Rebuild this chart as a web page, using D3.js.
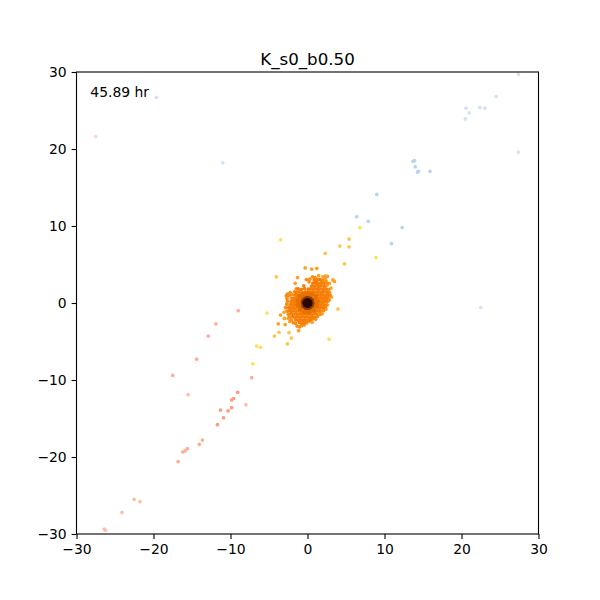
<!DOCTYPE html>
<html><head><meta charset="utf-8">
<script src="https://cdn.jsdelivr.net/npm/d3@7"></script>
<style>html,body{margin:0;padding:0;background:#fff}svg{display:block}text{font-family:"DejaVu Sans",sans-serif;fill:#000}</style>
</head><body><svg id="c" width="600" height="600"></svg>
<script>
const titleText="K_s0_b0.50", timeLabel="45.89 hr";
const tickValues=[-30,-20,-10,0,10,20,30];

const blueNear=[[9,14.1],[6.4,11.2],[7.9,10.6],[12.3,9.8],[10.9,7.7],[13.7,18.4],[13.9,18.5],[14,17.7],[14.4,17.1],[14.3,17],[15.9,17.1]];
const blueFar=[[27.4,29.7],[24.5,26.8],[20.6,25.3],[22.4,25.4],[23.05,25.3],[21,24.7],[20.5,23.9],[27.4,19.6],[22.5,-0.6],[-19.6,26.7],[-11,18.2]];
const pinkFar=[[-27.5,21.6]];
const salmonFar=[[-22.5,-25.5],[-21.75,-25.8],[-24.1,-27.2],[-26.4,-29.35],[-26.25,-29.5],[-15.5,-11.9],[-8,-13.2]];
const salmonMid=[[-9,-1],[-11.9,-2.7],[-12.9,-4.3],[-14.4,-7.3],[-17.5,-9.4],[-7.25,-9.7],[-16.8,-20.6],[-15.6,-18.9],[-15.9,-19.2],[-16.2,-19.35],[-13.65,-17.8],[-14.05,-18.35]];
const salmonNear=[[-9.07,-11.6],[-9.6,-12.4],[-9.85,-12.6],[-9.85,-13.6],[-10.3,-14],[-11.3,-13.9],[-10.9,-14.9],[-11.7,-15.8]];
const yellow=[[8.9,5.9],[-3.5,8.2],[-5.26,-1.3],[2.8,-4.7],[-6.6,-5.6],[-6.1,-5.75],[-7.1,-7.9],[6.8,9.8]];
const amber=[[5.4,8.3],[5.4,7.3],[4.2,7.4],[4.8,5.1],[2.3,6.45],[-4.05,3.4],[3.96,-0.78],[-2.6,-5.3],[-4.3,-4.3],[-3.7,-3.8],[-2.1,-4.55],[-2.4,-3.85]];
const orangeOuter=[[-1.15,-3.6],[-3.8,-2.7],[-2.9,-2.8],[-3.5,-1.56],[-3.05,-1.2],[-3,-2],[-2.5,-2],[-2.3,-2.4],[0.6,-2.5],[-0.3,4.55],[0.55,4.4],[1.2,4.5],[-1.3,3.3],[-1.6,2.55],[1.45,3.55],[2,3.4],[2.3,3.5],[2.6,3.45],[2.3,3.2],[3.3,3],[3.5,2.8],[2.85,2.55],[2.55,2.3],[3.05,1.95],[3.1,0.78],[2.6,0.2],[2.4,-0.8],[1.9,-1.4],[1.6,-1.1]];
const orangeEdge=[[-2.75,0.92],[-2.62,1.15],[-2.4,0.95],[-2.25,1.35],[-2.05,1.1],[-2.65,0.55],[-2.6,0.2],[-2.7,-0.15],[-2.85,-0.6],[-2.65,-1.05],[-2.5,-1.45],[-2.35,-1.8],[-2.1,-2.2],[-1.85,-2.55],[-1.55,-2.65],[-1.35,-3.0],[-1.05,-3.1],[-0.8,-2.95],[-0.45,-2.85],[-0.1,-2.6],[0.25,-2.35],[-1.7,1.45],[-1.45,1.85],[-0.15,3.05],[0.2,2.75],[0.3,3.1],[0.65,3.4],[1.0,3.3],[1.3,3.05],[1.95,2.95],[2.4,2.85],[2.55,2.55],[2.75,1.75],[2.85,1.35],[2.95,1.0],[2.75,0.55],[2.8,0.35],[2.55,-0.25],[2.3,-0.55],[2.05,-1.0],[1.65,-1.45],[1.3,-1.75],[1.05,-2.1],[0.65,-2.05]];
const orangeDense=[
[0.88,3.02],[1.21,2.91],[1.62,3.05],[0.71,2.58],[1.03,2.66],[1.34,2.54],[1.72,2.61],[2.12,2.57],
[-0.48,2.24],[0.52,2.21],[0.83,2.16],[1.12,2.27],[1.43,2.15],[1.81,2.23],[2.21,2.14],
[-1.22,1.83],[-0.81,1.78],[-0.37,1.86],[0.11,1.79],[0.42,1.84],[0.73,1.76],[1.02,1.85],[1.31,1.78],[1.64,1.83],[2.03,1.76],[2.42,1.81],
[-1.43,1.38],[-1.02,1.44],[-0.63,1.36],[-0.28,1.43],[0.03,1.37],[0.32,1.42],[0.61,1.35],[0.93,1.43],[1.22,1.36],[1.53,1.42],[1.82,1.37],[2.13,1.44],[2.51,1.38],
[-1.62,1.02],[-1.31,0.96],[-1.02,1.04],[-0.71,0.97],[-0.42,1.03],[-0.13,0.95],[0.21,1.04],[0.52,0.97],[0.81,1.03],[1.12,0.96],[1.41,1.04],[1.72,0.97],[2.01,1.03],[2.32,0.95],[2.63,1.02],
[-2.03,0.62],[-1.72,0.57],[-1.41,0.63],[-1.12,0.56],[-0.83,0.62],[-0.52,0.57],[-0.21,0.63],[0.12,0.56],[0.41,0.62],[0.72,0.57],[1.03,0.63],[1.32,0.56],[1.61,0.62],[1.92,0.57],[2.23,0.63],[2.54,0.58],
[-2.12,0.22],[-1.81,0.17],[-1.52,0.23],[-1.22,0.16],[-0.91,0.22],[-0.62,0.17],[-0.31,0.23],[0.02,0.16],[0.31,0.22],[0.62,0.17],[0.93,0.23],[1.22,0.16],[1.52,0.22],[1.83,0.17],[2.12,0.23],[2.43,0.18],
[-2.24,-0.18],[-1.93,-0.23],[-1.62,-0.17],[-1.33,-0.24],[-1.02,-0.18],[-0.73,-0.23],[-0.42,-0.17],[-0.13,-0.24],[0.18,-0.18],[0.47,-0.23],[0.78,-0.17],[1.07,-0.24],[1.38,-0.18],[1.67,-0.23],[1.98,-0.17],[2.23,-0.24],
[-2.42,-0.58],[-2.11,-0.63],[-1.82,-0.57],[-1.51,-0.64],[-1.22,-0.58],[-0.91,-0.63],[-0.62,-0.57],[-0.31,-0.64],[0.02,-0.58],[0.31,-0.63],[0.62,-0.57],[0.91,-0.64],[1.22,-0.58],[1.51,-0.63],[1.82,-0.57],[2.03,-0.64],
[-2.33,-0.98],[-2.02,-1.03],[-1.73,-0.97],[-1.42,-1.04],[-1.13,-0.98],[-0.82,-1.03],[-0.53,-0.97],[-0.22,-1.04],[0.11,-0.98],[0.42,-1.03],[0.71,-0.97],[1.02,-1.04],[1.33,-0.98],[1.62,-1.03],
[-2.13,-1.38],[-1.82,-1.43],[-1.51,-1.37],[-1.22,-1.44],[-0.91,-1.38],[-0.62,-1.43],[-0.31,-1.37],[0.02,-1.44],[0.33,-1.38],[0.62,-1.43],[0.91,-1.37],[1.22,-1.44],
[-1.92,-1.78],[-1.61,-1.83],[-1.32,-1.77],[-1.01,-1.84],[-0.72,-1.78],[-0.41,-1.83],[-0.12,-1.77],[0.21,-1.84],[0.52,-1.78],[0.88,-1.83],
[-1.52,-2.18],[-1.21,-2.23],[-0.92,-2.17],[-0.61,-2.24],[-0.32,-2.18],[0.03,-2.23],[0.41,-2.17],
[-1.03,-2.53],[-0.72,-2.61],[-0.41,-2.52]];
const orangeInner=[[-1.2,0.3],[-1,0.9],[-0.6,1.1],[0,1.25],[0.6,1.15],[1.1,0.8],[1.3,0.2],[1.2,-0.4],[0.8,-0.95],[0.2,-1.2],[-0.4,-1.2],[-0.95,-0.8],[-1.25,-0.25],[-0.8,0.4],[-0.4,0.85],[0.3,0.9],[0.85,0.5],[0.95,-0.2],[0.5,-0.75],[-0.2,-0.9],[-0.8,-0.45]];
const brownRing=[[-0.55,0.1],[-0.45,0.35],[-0.25,0.52],[0,0.58],[0.28,0.5],[0.5,0.3],[0.58,0],[0.5,-0.28],[0.28,-0.5],[0,-0.58],[-0.25,-0.52],[-0.47,-0.32]];
const darkCore=[[0,0],[0.2,0.15],[-0.2,0.15],[0.2,-0.15],[-0.2,-0.15],[0,0.28],[0,-0.28],[0.28,0],[-0.28,0]];

const layers=[
 {pts:blueFar,fill:"#d2e3f5"},{pts:blueNear,fill:"#b9d4ec"},
 {pts:pinkFar,fill:"#ffd8cc"},{pts:salmonFar,fill:"#ffc0a9"},
 {pts:salmonMid,fill:"#ffae94"},{pts:salmonNear,fill:"#ff9a80"},
 {pts:yellow,fill:"#ffdf5c"},{pts:amber,fill:"#ffc44a"},
 {pts:orangeOuter,fill:"#ffa126"},{pts:orangeEdge,fill:"#fb8d14"},{pts:orangeDense,fill:"#f57f08"},
 {pts:orangeInner,fill:"#e67000",r:2.4},{pts:brownRing,fill:"#8c3a04",r:2.6},
 {pts:darkCore,fill:"#2a0505",r:2.9}
];

const L=76.5,R=538.5,T=72,B=534;
const x=d3.scaleLinear().domain([-30,30]).range([L,R]);
const y=d3.scaleLinear().domain([-30,30]).range([B,T]);
const svg=d3.select("#c");
svg.append("defs").append("clipPath").attr("id","cp").append("rect").attr("x",L).attr("y",T).attr("width",R-L).attr("height",B-T);
const g=svg.append("g").attr("clip-path","url(#cp)");
layers.forEach(l=>{
 g.append("g").selectAll("circle").data(l.pts).join("circle")
  .attr("cx",d=>x(d[0])).attr("cy",d=>y(d[1])).attr("r",l.r||1.85)
  .attr("fill",l.fill);
});
svg.append("rect").attr("x",L).attr("y",T).attr("width",R-L).attr("height",B-T)
 .attr("fill","none").attr("stroke","#000").attr("stroke-width",1.1);
const ax=svg.append("g").attr("transform",`translate(0,${B})`).call(d3.axisBottom(x).tickValues(tickValues).tickSize(4.9).tickPadding(4.9));
const ay=svg.append("g").attr("transform",`translate(${L},0)`).call(d3.axisLeft(y).tickValues(tickValues).tickSize(4.9).tickPadding(4.9));
[ax,ay].forEach(a=>{a.select(".domain").remove();a.selectAll("line").attr("stroke","#000").attr("stroke-width",1.1);
 a.selectAll("text").attr("font-size",13.9).attr("font-family","DejaVu Sans").attr("fill","#000");});
svg.append("text").attr("x",(L+R)/2).attr("y",T-7).attr("text-anchor","middle").attr("font-size",16.67).text(titleText);
svg.append("text").attr("x",x(-28.2)).attr("y",y(27)+2).attr("font-size",13.9).text(timeLabel);
</script></body></html>
